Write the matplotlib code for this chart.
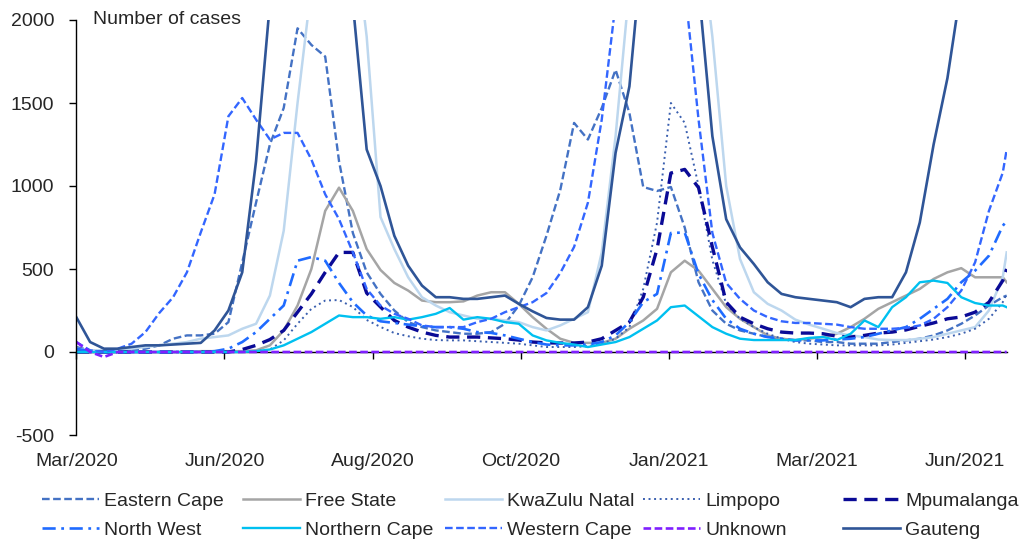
import matplotlib
matplotlib.use("Agg")
import matplotlib.pyplot as plt

plt.rcParams['font.family'] = ['Liberation Sans', 'DejaVu Sans']
plt.rcParams['lines.scale_dashes'] = False

# ---------------- data (7-day sampled daily series, day index from start) ----------------
days = list(range(0, 470, 7)) + [471]
tick_days = [0, 75, 150, 225, 300, 375, 450]
tick_labels = ['Mar/2020', 'Jun/2020', 'Aug/2020', 'Oct/2020', 'Jan/2021', 'Mar/2021', 'Jun/2021']
y_ticks = [-500, 0, 500, 1000, 1500, 2000]

eastern_cape = [30, 10, 5, 5, 10, 20, 40, 80, 100, 100, 110, 180, 540, 900, 1250, 1470, 1950, 1850,
                1780, 1150, 717, 480, 350, 250, 180, 150, 130, 120, 110, 110, 120, 170, 280, 450, 700,
                976, 1380, 1280, 1470, 1700, 1440, 994, 970, 994, 750, 420, 250, 170, 130, 110, 90, 80,
                70, 70, 60, 60, 50, 50, 50, 60, 70, 80, 100, 130, 170, 220, 280, 330, 340]
free_state = [0, 0, 0, 0, 0, 0, 0, 0, 0, 5, 5, 5, 5, 10, 40, 130, 280, 500, 850, 990, 850, 620, 494,
              416, 370, 310, 300, 300, 305, 340, 360, 360, 290, 210, 140, 80, 55, 55, 55, 80, 140, 190,
              260, 480, 550, 490, 380, 270, 200, 150, 100, 80, 72, 80, 90, 110, 150, 200, 260, 300, 340,
              380, 440, 480, 505, 450, 450, 450, 420]
kwazulu_natal = [20, 10, 10, 15, 20, 30, 40, 50, 60, 80, 90, 100, 140, 170, 340, 730, 1500, 2200, 3000,
                 3100, 2600, 1900, 813, 620, 450, 330, 280, 240, 220, 200, 200, 190, 180, 150, 130, 160,
                 200, 240, 600, 1300, 2200, 3500, 4000, 3500, 3000, 2600, 1900, 1000, 560, 360, 290, 250,
                 195, 165, 140, 114, 100, 90, 75, 72, 72, 80, 90, 110, 130, 150, 250, 450, 600]
limpopo = [0, 0, 0, 0, 0, 0, 0, 0, 0, 0, 0, 0, 0, 5, 15, 70, 170, 260, 310, 313, 271, 193, 151, 114,
           95, 80, 72, 70, 70, 65, 60, 55, 50, 40, 30, 30, 30, 35, 50, 80, 150, 380, 780, 1500, 1380,
           1000, 554, 290, 200, 150, 110, 80, 60, 50, 45, 40, 40, 40, 40, 45, 55, 65, 75, 90, 110, 140,
           200, 300, 350]
mpumalanga = [0, 0, 0, 0, 0, 0, 0, 0, 0, 0, 0, 0, 15, 40, 75, 130, 240, 350, 480, 600, 600, 355, 271,
              190, 150, 120, 100, 90, 90, 90, 85, 80, 72, 60, 55, 54, 54, 60, 80, 130, 180, 330, 620,
              1078, 1100, 990, 633, 300, 210, 170, 140, 120, 114, 114, 110, 95, 90, 100, 114, 120, 133,
              155, 175, 200, 211, 240, 300, 430, 500]
north_west = [20, 5, 0, 0, 0, 0, 0, 0, 0, 0, 5, 20, 60, 120, 200, 280, 550, 572, 550, 416, 300, 220,
              185, 175, 165, 155, 150, 150, 140, 120, 115, 100, 80, 60, 45, 40, 40, 45, 60, 100, 180,
              300, 350, 717, 720, 470, 313, 200, 140, 110, 90, 80, 70, 70, 70, 75, 80, 90, 110, 130, 150,
              200, 260, 320, 420, 490, 580, 760, 790]
northern_cape = [0, 0, 0, 0, 0, 0, 0, 0, 0, 0, 0, 0, 0, 5, 15, 40, 80, 120, 170, 220, 210, 210, 200,
                 210, 195, 210, 230, 265, 195, 210, 200, 180, 170, 100, 70, 55, 45, 30, 45, 60, 90, 140,
                 190, 270, 280, 215, 150, 110, 80, 72, 72, 72, 72, 85, 90, 72, 110, 190, 150, 270, 330,
                 420, 430, 416, 330, 295, 280, 280, 270]
western_cape = [60, 10, 0, 20, 50, 120, 235, 330, 480, 720, 950, 1420, 1530, 1400, 1280, 1320, 1320,
                1160, 950, 800, 600, 380, 280, 230, 200, 160, 150, 150, 150, 180, 200, 240, 270, 300,
                355, 476, 633, 900, 1400, 2100, 2600, 2900, 2900, 2600, 2200, 1400, 717, 416, 320, 250,
                210, 185, 175, 175, 170, 165, 150, 140, 140, 140, 145, 160, 200, 270, 370, 540, 850,
                1080, 1220]
unknown = [60, 0, -30, 0, 0, 0, 0, 0, 0, 0, 0, 0, 0, 0, 0, 0, 0, 0, 0, 0, 0, 0, 0, 0, 0, 0, 0, 0, 0,
           0, 0, 0, 0, 0, 0, 0, 0, 0, 0, 0, 0, 0, 0, 0, 0, 0, 0, 0, 0, 0, 0, 0, 0, 0, 0, 0, 0, 0, 0, 0,
           0, 0, 0, 0, 0, 0, 0, 0, 0]
gauteng = [210, 60, 20, 20, 30, 40, 40, 45, 50, 55, 130, 250, 480, 1150, 2100, 3500, 4500, 5500, 6000,
           4500, 2100, 1220, 1000, 700, 520, 400, 330, 330, 320, 320, 330, 340, 290, 245, 205, 195, 195,
           270, 520, 1200, 1600, 2500, 3500, 4000, 3500, 2200, 1300, 800, 630, 530, 420, 350, 330, 320,
           310, 300, 270, 320, 330, 330, 480, 780, 1250, 1650, 2200, 3000, 3800, 4500, 4700]

series_names = ['Eastern Cape', 'Free State', 'KwaZulu Natal', 'Limpopo', 'Mpumalanga',
                'North West', 'Northern Cape', 'Western Cape', 'Unknown', 'Gauteng']
series_values = [eastern_cape, free_state, kwazulu_natal, limpopo, mpumalanga,
                 north_west, northern_cape, western_cape, unknown, gauteng]

# ---------------- styles ----------------
styles = {
    'Eastern Cape':  dict(color='#4472C4', lw=1.7, ls=(0, (5.5, 2.5))),
    'Free State':    dict(color='#A5A5A5', lw=1.8, ls='-'),
    'KwaZulu Natal': dict(color='#BDD7EE', lw=1.8, ls='-'),
    'Limpopo':       dict(color='#3A5FAF', lw=1.4, ls=(0, (1.4, 2.6))),
    'Mpumalanga':    dict(color='#0A0A96', lw=2.4, ls=(0, (9.5, 5.5))),
    'North West':    dict(color='#1F6BFF', lw=1.9, ls=(0, (9.5, 4.0, 2.0, 4.0))),
    'Northern Cape': dict(color='#00C0F0', lw=1.7, ls='-'),
    'Western Cape':  dict(color='#3366FF', lw=1.7, ls=(0, (5.5, 2.5))),
    'Unknown':       dict(color='#7F1FFF', lw=1.9, ls=(0, (5.5, 2.5))),
    'Gauteng':       dict(color='#2F5597', lw=1.9, ls='-'),
}
text_color = '#262626'
fs = 14

fig = plt.figure(figsize=(10.27, 5.43), dpi=100)
W, H = 1027, 543
ax = fig.add_axes([76.3 / W, 108 / H, 930.4 / W, 415 / H])

handles = []
for name, vals in zip(series_names, series_values):
    st = styles[name]
    h, = ax.plot(days, vals, color=st['color'], lw=st['lw'], linestyle=st['ls'], label=name)
    handles.append(h)

ax.set_xlim(0, 471)
ax.set_ylim(-500, 2000)

# y axis
ax.set_yticks(y_ticks)
ax.set_yticklabels([str(v) for v in y_ticks])
ax.tick_params(axis='y', direction='out', length=5, width=1, color='black', pad=11,
               labelsize=fs, labelcolor=text_color)
for s in ['top', 'right', 'bottom']:
    ax.spines[s].set_visible(False)
ax.spines['left'].set_color('black')
ax.spines['left'].set_linewidth(1.0)

# x labels at bottom of plot area
ax.set_xticks(tick_days)
ax.set_xticklabels(tick_labels)
ax.tick_params(axis='x', length=0, pad=13, labelsize=fs, labelcolor=text_color)

# horizontal axis line at y = 0 with tick marks
sec = ax.secondary_xaxis(0.2)
sec.set_xticks(tick_days)
sec.tick_params(axis='x', direction='out', length=5, width=1, color='black', labelbottom=False,
                labeltop=False)
sec.spines['bottom'].set_color('black')
sec.spines['bottom'].set_linewidth(1.0)
for s in ['top', 'left', 'right']:
    sec.spines[s].set_visible(False)

ax.text(0.018, 1.0, 'Number of cases', transform=ax.transAxes, ha='left', va='center',
        fontsize=fs, color=text_color)

# legend: 5 columns x 2 rows (Excel-like equal-width columns)
col_x = [42, 243, 445, 643, 843]
for i in range(5):
    fig.legend([handles[i], handles[i + 5]], [series_names[i], series_names[i + 5]],
               loc='upper left', bbox_to_anchor=(col_x[i] / W, 1 - 492 / H),
               frameon=False, fontsize=fs, handlelength=2.95, handletextpad=0.25,
               labelspacing=0.62, borderpad=0, borderaxespad=0, labelcolor=text_color)

fig.savefig('out.png', dpi=100)
